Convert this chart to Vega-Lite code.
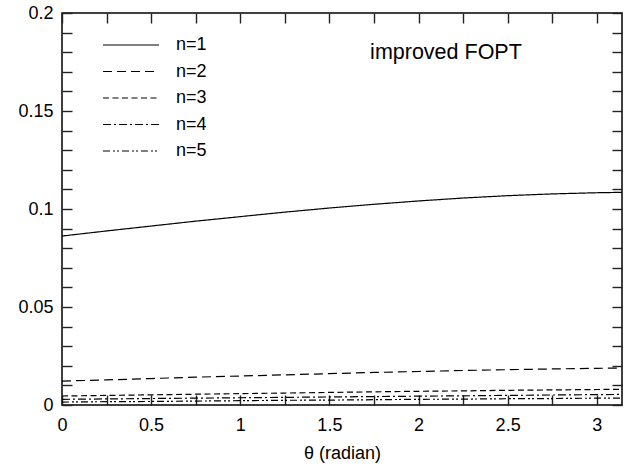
{
  "$schema": "https://vega.github.io/schema/vega-lite/v6.json",
  "width": 560,
  "height": 392,
  "autosize": {"type": "none"},
  "padding": {"left": 62, "top": 13, "right": 10, "bottom": 59},
  "background": "white",
  "config": {
    "view": {"stroke": "black", "strokeWidth": 1.5},
    "font": "Liberation Sans",
    "axis": {"labelFont": "Liberation Sans", "titleFont": "Liberation Sans", "labelColor": "black", "titleColor": "black", "labelFontSize": 18, "titleFontSize": 18, "titleFontWeight": "normal", "grid": false, "domain": false, "tickColor": "#222", "tickWidth": 1.4, "labelOverlap": false, "labelFlush": false},
    "legend": {"orient": "none", "legendX": 60, "legendY": 23, "padding": 0, "symbolType": "M-7,0H7", "symbolSize": 64, "symbolStrokeColor": "black", "symbolStrokeWidth": 1, "labelFont": "Liberation Sans", "labelFontSize": 18, "labelColor": "black", "labelOffset": 36, "rowPadding": 8.5}
  },
  "data": {"values": [
    {"theta": 0, "n": "n=1", "v": 0.0862}, {"theta": 0.25, "n": "n=1", "v": 0.0888}, {"theta": 0.5, "n": "n=1", "v": 0.0913}, {"theta": 0.75, "n": "n=1", "v": 0.0938}, {"theta": 1.0, "n": "n=1", "v": 0.0961}, {"theta": 1.25, "n": "n=1", "v": 0.0984}, {"theta": 1.5, "n": "n=1", "v": 0.1005}, {"theta": 1.75, "n": "n=1", "v": 0.1024}, {"theta": 2.0, "n": "n=1", "v": 0.1041}, {"theta": 2.25, "n": "n=1", "v": 0.1056}, {"theta": 2.5, "n": "n=1", "v": 0.1068}, {"theta": 2.75, "n": "n=1", "v": 0.1077}, {"theta": 3.0, "n": "n=1", "v": 0.1083}, {"theta": 3.14159, "n": "n=1", "v": 0.1085},
    {"theta": 0, "n": "n=2", "v": 0.0122}, {"theta": 0.25, "n": "n=2", "v": 0.0128}, {"theta": 0.5, "n": "n=2", "v": 0.0135}, {"theta": 0.75, "n": "n=2", "v": 0.0142}, {"theta": 1.0, "n": "n=2", "v": 0.0148}, {"theta": 1.25, "n": "n=2", "v": 0.0154}, {"theta": 1.5, "n": "n=2", "v": 0.016}, {"theta": 1.75, "n": "n=2", "v": 0.0166}, {"theta": 2.0, "n": "n=2", "v": 0.0171}, {"theta": 2.25, "n": "n=2", "v": 0.0176}, {"theta": 2.5, "n": "n=2", "v": 0.018}, {"theta": 2.75, "n": "n=2", "v": 0.0184}, {"theta": 3.0, "n": "n=2", "v": 0.0187}, {"theta": 3.14159, "n": "n=2", "v": 0.0189},
    {"theta": 0, "n": "n=3", "v": 0.0046}, {"theta": 0.25, "n": "n=3", "v": 0.0049}, {"theta": 0.5, "n": "n=3", "v": 0.0052}, {"theta": 0.75, "n": "n=3", "v": 0.0055}, {"theta": 1.0, "n": "n=3", "v": 0.0058}, {"theta": 1.25, "n": "n=3", "v": 0.0061}, {"theta": 1.5, "n": "n=3", "v": 0.0064}, {"theta": 1.75, "n": "n=3", "v": 0.0067}, {"theta": 2.0, "n": "n=3", "v": 0.007}, {"theta": 2.25, "n": "n=3", "v": 0.0072}, {"theta": 2.5, "n": "n=3", "v": 0.0075}, {"theta": 2.75, "n": "n=3", "v": 0.0077}, {"theta": 3.0, "n": "n=3", "v": 0.0079}, {"theta": 3.14159, "n": "n=3", "v": 0.008},
    {"theta": 0, "n": "n=4", "v": 0.0029}, {"theta": 0.25, "n": "n=4", "v": 0.0031}, {"theta": 0.5, "n": "n=4", "v": 0.0033}, {"theta": 0.75, "n": "n=4", "v": 0.0035}, {"theta": 1.0, "n": "n=4", "v": 0.0037}, {"theta": 1.25, "n": "n=4", "v": 0.0039}, {"theta": 1.5, "n": "n=4", "v": 0.0041}, {"theta": 1.75, "n": "n=4", "v": 0.0043}, {"theta": 2.0, "n": "n=4", "v": 0.0045}, {"theta": 2.25, "n": "n=4", "v": 0.0047}, {"theta": 2.5, "n": "n=4", "v": 0.0049}, {"theta": 2.75, "n": "n=4", "v": 0.0051}, {"theta": 3.0, "n": "n=4", "v": 0.0053}, {"theta": 3.14159, "n": "n=4", "v": 0.0054},
    {"theta": 0, "n": "n=5", "v": 0.0015}, {"theta": 0.25, "n": "n=5", "v": 0.0017}, {"theta": 0.5, "n": "n=5", "v": 0.0018}, {"theta": 0.75, "n": "n=5", "v": 0.002}, {"theta": 1.0, "n": "n=5", "v": 0.0022}, {"theta": 1.25, "n": "n=5", "v": 0.0024}, {"theta": 1.5, "n": "n=5", "v": 0.0025}, {"theta": 1.75, "n": "n=5", "v": 0.0027}, {"theta": 2.0, "n": "n=5", "v": 0.0029}, {"theta": 2.25, "n": "n=5", "v": 0.003}, {"theta": 2.5, "n": "n=5", "v": 0.0032}, {"theta": 2.75, "n": "n=5", "v": 0.0033}, {"theta": 3.0, "n": "n=5", "v": 0.0035}, {"theta": 3.14159, "n": "n=5", "v": 0.0035}
  ]},
  "resolve": {"axis": {"x": "independent", "y": "independent"}},
  "layer": [
    {
      "mark": {"type": "line", "color": "black", "strokeWidth": 1.2, "clip": true},
      "encoding": {
        "x": {"field": "theta", "type": "quantitative", "scale": {"domain": [0, 3.14159], "nice": false, "zero": false},
              "axis": {"orient": "bottom", "title": "θ (radian)", "values": [0, 0.25, 0.5, 0.75, 1, 1.25, 1.5, 1.75, 2, 2.25, 2.5, 2.75, 3],
                       "labelExpr": "round(datum.value*4)%2==0 ? format(datum.value,'~g') : ''",
                       "tickSize": -10, "labelPadding": 21, "titlePadding": 10,
                       "encode": {"ticks": {"update": {"y2": {"signal": "round(datum.value*4)%2==0 ? -10 : -5"}}}}}},
        "y": {"field": "v", "type": "quantitative", "scale": {"domain": [0, 0.2], "nice": false, "zero": false},
              "axis": {"orient": "left", "title": null, "values": [0, 0.01, 0.02, 0.03, 0.04, 0.05, 0.06, 0.07, 0.08, 0.09, 0.1, 0.11, 0.12, 0.13, 0.14, 0.15, 0.16, 0.17, 0.18, 0.19, 0.2],
                       "labelExpr": "round(datum.value*100)%5==0 ? format(datum.value,'~g') : ''",
                       "tickSize": -10, "labelPadding": 19,
                       "encode": {"ticks": {"update": {"x2": {"signal": "round(datum.value*100)%5==0 ? 10 : 5"}}}}}},
        "strokeDash": {"field": "n", "type": "nominal", "title": null,
              "scale": {"domain": ["n=1", "n=2", "n=3", "n=4", "n=5"], "range": [[1, 0], [9, 5], [6, 3.5], [8, 3, 2, 3], [7, 3, 2, 2, 2, 3]]}}
      }
    },
    {
      "mark": {"type": "line", "opacity": 0},
      "encoding": {
        "x": {"field": "theta", "type": "quantitative", "scale": {"domain": [0, 3.14159], "nice": false, "zero": false},
              "axis": {"orient": "top", "title": null, "labels": false, "values": [0, 0.25, 0.5, 0.75, 1, 1.25, 1.5, 1.75, 2, 2.25, 2.5, 2.75, 3],
                       "tickSize": -10,
                       "encode": {"ticks": {"update": {"y2": {"signal": "round(datum.value*4)%2==0 ? 10 : 5"}}}}}},
        "y": {"field": "v", "type": "quantitative", "scale": {"domain": [0, 0.2], "nice": false, "zero": false},
              "axis": {"orient": "right", "title": null, "labels": false, "values": [0, 0.01, 0.02, 0.03, 0.04, 0.05, 0.06, 0.07, 0.08, 0.09, 0.1, 0.11, 0.12, 0.13, 0.14, 0.15, 0.16, 0.17, 0.18, 0.19, 0.2],
                       "tickSize": -10,
                       "encode": {"ticks": {"update": {"x2": {"signal": "round(datum.value*100)%5==0 ? -10 : -5"}}}}}}
      }
    },
    {
      "data": {"values": [{"label": "improved FOPT"}]},
      "mark": {"type": "text", "font": "Liberation Sans", "fontSize": 21.5, "color": "black", "align": "center", "baseline": "middle"},
      "encoding": {
        "x": {"datum": 2.154, "type": "quantitative", "axis": null},
        "y": {"datum": 0.1796, "type": "quantitative", "axis": null},
        "text": {"field": "label", "type": "nominal"}
      }
    }
  ]
}
